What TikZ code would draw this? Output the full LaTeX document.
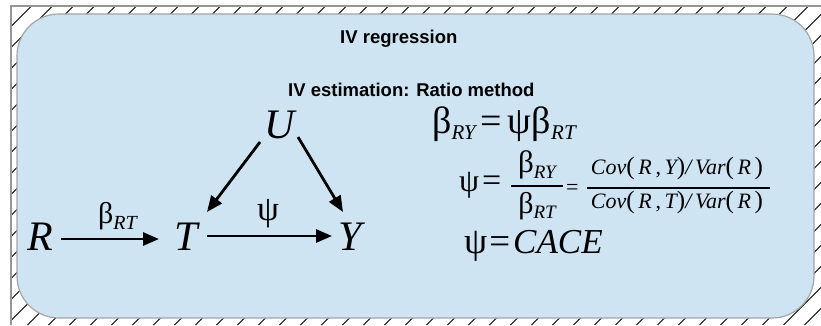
\documentclass[tikz,border=0pt]{standalone}
\usepackage{fontspec}
\setmainfont{Liberation Serif}
\newfontfamily\sansf{Liberation Sans}
\usetikzlibrary{arrows.meta}
\definecolor{boxfill}{RGB}{207,228,242}
\definecolor{boxline}{RGB}{165,165,165}
\definecolor{framegray}{RGB}{150,150,150}
\newcommand\fs[1]{\fontsize{#1}{#1}\selectfont}
\newcommand\g[2]{{\fs{#1}#2}}
\newcommand\subsc[3]{\raisebox{#1}{\fs{#2}\itshape #3}}
\newcommand\lp{{\upshape\fs{25}(}}
\newcommand\rp{{\upshape\fs{25})}}
\tikzset{
  letter/.style={font=\fs{42}\itshape, inner sep=0pt},
  arr/.style={line width=2.8pt, -{Triangle[length=16pt,width=13pt]}},
  title/.style={font=\fs{18.5}\sansf\bfseries, anchor=base west, inner sep=0pt},
  eq/.style={anchor=base west, inner sep=0pt},
  fracbar/.style={line width=2pt},
}
\begin{document}
\begin{tikzpicture}[x=1pt,y=-1pt]
\useasboundingbox (0,0) rectangle (821,325);
% hatching
\begin{scope}
  \clip (11,6) rectangle (821,325);
  \foreach \c in {16.5,37.5,...,1170} \draw[line width=0.8pt] (\c,0) -- (\c-325,325);
\end{scope}
\draw[framegray, line width=2.5pt] (11,325) -- (11,6) -- (821,6);
% main box
\draw[boxline, fill=boxfill, line width=1.2pt, rounded corners=42pt] (17,14) rectangle (814,318);
% titles
\node[title] (t1) at (340,43) {IV regression};
\node[title] (t2) at (288,96) {IV estimation: Ratio method};
% diagram
\node[letter] (R) at (40,237) {R};
\node[letter] (T) at (186,237) {T};
\node[letter] (Y) at (350,237) {Y};
\node[letter] (U) at (280,125) {U};
\draw[arr] ([shift={(21,2)}]R.center) -- ([shift={(-27,2)}]T.center);
\draw[arr] ([shift={(21,-1)}]T.center) -- ([shift={(-18,-1)}]Y.center);
\draw[arr] ([shift={(-20,17)}]U.center) -- ([shift={(21,-25)}]T.center);
\draw[arr] ([shift={(18,12)}]U.center) -- ([shift={(-7,-25)}]Y.center);
\node[eq] (bRT) at (98,223) {\g{30}{β}\subsc{-6pt}{20}{RT}};
\node[eq] (psiL) at (257,220) {\g{35}{ψ}};
% equations
\node[eq] (eq1) at (432,133) {\g{38}{β}\subsc{-6pt}{21}{RY}\hspace{5pt}\g{38}{=}\hspace{5pt}\g{38}{ψ}\hspace{1pt}\g{38}{β}\subsc{-6pt}{21}{RT}};
\node[eq] (psi2) at (459,191) {\g{32}{ψ}\hspace{3pt}\g{34}{=}};
\node[anchor=base, inner sep=0pt] (n1) at (537,172) {\g{31}{β}\subsc{-6pt}{19}{RY}};
\node[anchor=base, inner sep=0pt] (d1) at (537,213) {\g{30}{β}\subsc{-5pt}{19}{RT}};
\coordinate (f1l) at (511,186);
\coordinate (f1r) at (563,186);
\draw[fracbar] (f1l) -- (f1r);
\node[eq, font=\fs{22}] (eqs) at (566,194) {=};
\node[anchor=base, inner sep=0pt, font=\fs{22}\itshape] (n2) at (677,174) {Cov\lp\,R\,{\upshape,}\,Y\rp/\,Var\lp\,R\,\rp};
\node[anchor=base, inner sep=0pt, font=\fs{22}\itshape] (d2) at (677,208) {Cov\lp\,R\,{\upshape,}\,T\rp/\,Var\lp\,R\,\rp};
\coordinate (f2l) at (587,188);
\coordinate (f2r) at (770,188);
\draw[fracbar] (f2l) -- (f2r);
\node[eq] (eq3) at (464,253) {\g{37}{ψ}\hspace{2pt}\g{37}{=}\hspace{3pt}\textit{\fs{35}CACE}};
\end{tikzpicture}
\end{document}
